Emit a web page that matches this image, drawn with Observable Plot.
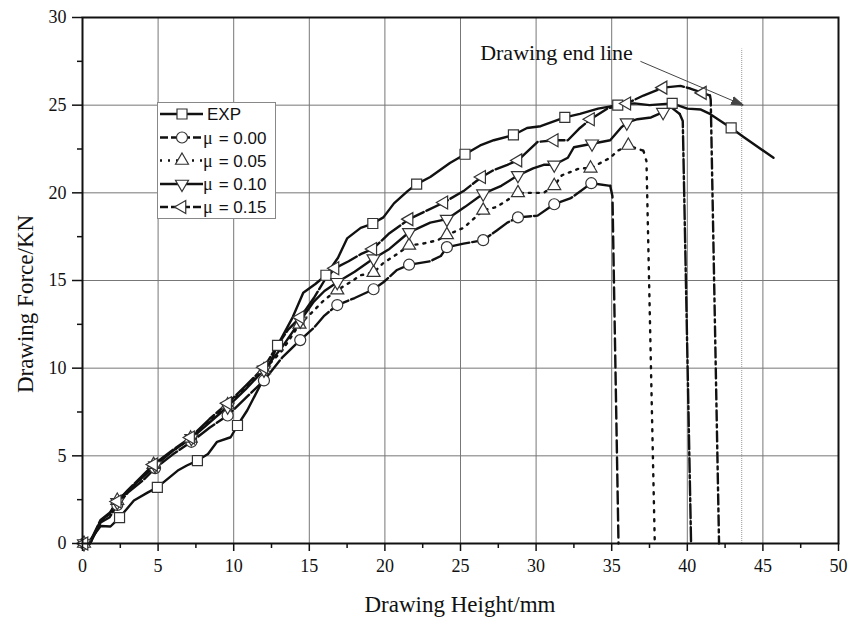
<!DOCTYPE html>
<html><head><meta charset="utf-8">
<script src="https://cdn.jsdelivr.net/npm/d3@7"></script>
<script src="https://cdn.jsdelivr.net/npm/@observablehq/plot@0.6"></script>
<style>
html,body{margin:0;padding:0;background:#fff;}
#wrap{position:relative;width:860px;height:617px;overflow:hidden;}
#legend{position:absolute;left:157px;top:102px;}
</style></head><body><div id="wrap"></div>
<script>
// ---------------- data ----------------
const xTicks = [0,5,10,15,20,25,30,35,40,45,50];
const xMinor = [2.5,7.5,12.5,17.5,22.5,27.5,32.5,37.5,42.5,47.5];
const yTicks = [0,5,10,15,20,25,30];
const yMinor = [2.5,7.5,12.5,17.5,22.5,27.5];

const seriesNames = ["EXP","μ = 0.00","μ = 0.05","μ = 0.10","μ = 0.15"];

const expX = [0.3,0.6,1.2,1.85,2.45,3.4,4.3,4.95,6.3,6.9,7.6,8.3,8.9,9.8,10.25,10.9,11.8,12.9,13.9,14.6,15.4,16.1,16.9,17.5,18.4,19.2,19.9,20.6,21.5,22.1,23.0,24.3,25.3,26.3,27.2,28.5,29.4,30.3,31.9,32.9,34.1,35.4,36.5,37.5,39.0,40.0,40.9,41.5,42.9,43.7,45.7];
const expY = [0,0.3,1.0,0.97,1.48,2.45,2.9,3.2,4.16,4.45,4.73,5.1,5.8,6.06,6.73,7.6,9.1,11.3,12.9,14.3,14.8,15.3,16.3,17.4,18.0,18.25,18.6,19.4,20.1,20.5,20.9,21.7,22.2,22.7,23.0,23.3,23.7,23.8,24.3,24.5,24.8,25.0,25.1,25.0,25.1,24.8,24.75,24.5,23.7,23.2,22.0];
const expMarkX = [2.45,4.95,7.6,10.25,12.9,16.1,19.2,22.1,25.3,28.5,31.9,35.4,39.0,42.9];

const mu0X = [0.1,0.5,1.2,1.8,2.3,3.0,4.0,4.8,6.0,7.2,8.4,9.6,10.8,12.0,13.2,14.4,15.3,16.0,16.85,18.0,19.25,19.9,20.8,21.6,23.0,23.7,24.1,25.2,26.5,27.4,28.1,28.8,30.1,31.2,32.3,33.65,34.9,35.05,35.45];
const mu0Y = [0,0,1.2,1.5,2.2,2.9,3.6,4.3,5.1,5.8,6.6,7.3,8.3,9.3,10.6,11.6,12.3,13.0,13.6,14.0,14.5,14.9,15.6,15.9,16.1,16.4,16.9,17.1,17.3,17.85,18.3,18.6,18.7,19.35,19.7,20.55,20.4,19.8,0];
const mu0MarkX = [0.1,2.3,4.8,7.2,9.6,12.0,14.4,16.85,19.25,21.6,24.1,26.5,28.8,31.2,33.65];

const mu05X = [0.1,0.5,1.2,1.8,2.3,3.0,4.0,4.7,6.0,7.15,8.4,9.6,10.8,12.0,13.2,14.35,15.2,16.0,16.85,17.7,18.4,19.25,19.9,20.8,21.6,22.5,23.5,24.1,25.2,26.5,27.4,28.3,28.8,29.6,30.5,31.2,31.7,32.9,33.6,34.9,35.4,36.1,37.1,37.3,37.85];
const mu05Y = [0,0,1.3,1.7,2.45,3.0,3.8,4.5,5.3,6.0,7.0,7.9,8.9,9.9,11.0,12.5,13.2,13.9,14.45,14.9,15.3,15.45,16.0,16.5,17.0,17.1,17.3,17.6,18.0,19.0,19.2,19.7,20.0,20.0,20.0,20.4,21.0,21.4,21.4,22.0,22.4,22.7,22.4,21.8,0];
const mu05MarkX = [0.1,2.3,4.7,7.15,9.6,12.0,14.35,16.85,19.25,21.6,24.1,26.5,28.8,31.2,33.6,36.1];

const mu10X = [0.1,0.5,1.2,1.8,2.3,3.0,4.0,4.8,6.0,7.2,8.4,9.6,10.8,12.0,13.2,14.4,15.3,16.0,16.85,18.0,19.25,20.3,21.6,23.0,24.1,25.3,26.5,27.7,28.8,29.8,30.5,31.2,32.1,32.5,33.7,34.9,35.6,36.0,36.7,37.6,38.4,38.9,39.5,39.7,40.25];
const mu10Y = [0,0,1.3,1.7,2.35,3.0,3.8,4.45,5.3,6.0,6.9,7.8,8.8,9.9,11.2,12.7,13.8,14.4,14.9,15.5,16.25,16.8,17.75,18.3,18.5,19.2,19.95,20.4,21.0,21.4,21.6,21.6,22.0,22.6,22.8,23.0,23.7,24.0,24.2,24.3,24.6,24.9,24.5,24.1,0];
const mu10MarkX = [0.1,2.3,4.8,7.2,9.6,12.0,14.4,16.85,19.25,21.6,24.1,26.5,28.8,31.2,33.7,36.0,38.4];

const mu15X = [0.1,0.5,1.2,1.8,2.3,3.0,4.0,4.7,6.0,7.15,8.4,9.6,10.8,12.0,12.9,13.6,14.4,15.3,16.0,16.7,17.6,18.4,19.2,20.3,21.6,22.8,23.9,25.2,26.4,27.2,28.1,28.8,30.1,31.2,32.1,32.9,33.6,34.7,36.0,37.1,38.4,39.55,40.2,41.0,41.5,41.55,42.1];
const mu15Y = [0,0.1,1.35,1.75,2.4,3.05,3.9,4.5,5.35,6.05,7.1,8.0,9.0,10.05,11.3,12.2,12.9,14.0,15.0,15.7,16.1,16.5,16.8,17.7,18.5,19.0,19.45,20.1,20.9,21.3,21.6,21.85,22.9,23.0,23.0,23.7,24.2,24.8,25.1,25.55,26.0,26.1,25.95,25.7,25.55,25.3,0];
const mu15MarkX = [0.1,2.3,4.7,7.15,9.6,12.0,14.4,16.7,19.2,21.6,23.9,26.4,28.8,31.2,33.6,36.0,38.4,41.0];

// x where each simulated curve breaks off into its drop line
const dropFrom = [null, 34.9, 37.1, 39.5, 41.5];

// annotation
const endLine = [{x: 43.6, top: 28.2}];
const endLabel = [{x: 26.3, y: 28.0, text: "Drawing end line"}];
const endArrow = [{x1: 36.9, y1: 27.5, x2: 43.7, y2: 25.0}];

const xTitle = "Drawing Height/mm";
const yTitle = "Drawing Force/KN";

// ---------------- styles ----------------
const SERIF = "'Liberation Serif','Times New Roman',serif";
const SANS = "'Liberation Sans',Arial,sans-serif";

function mkSym(kind){
  return {draw(ctx, size){
    const r = Math.sqrt(size/Math.PI);
    if (kind === "circle") { ctx.moveTo(r,0); ctx.arc(0,0,r,0,2*Math.PI); }
    else if (kind === "square") { ctx.moveTo(-r,-r); ctx.lineTo(r,-r); ctx.lineTo(r,r); ctx.lineTo(-r,r); ctx.closePath(); }
    else if (kind === "up") { ctx.moveTo(0,-r); ctx.lineTo(0.866*r,0.5*r); ctx.lineTo(-0.866*r,0.5*r); ctx.closePath(); }
    else if (kind === "down") { ctx.moveTo(0,r); ctx.lineTo(0.866*r,-0.5*r); ctx.lineTo(-0.866*r,-0.5*r); ctx.closePath(); }
    else if (kind === "left") { ctx.moveTo(-r,0); ctx.lineTo(0.5*r,-0.866*r); ctx.lineTo(0.5*r,0.866*r); ctx.closePath(); }
  }};
}

const seriesXs = [expX, mu0X, mu05X, mu10X, mu15X];
const seriesYs = [expY, mu0Y, mu05Y, mu10Y, mu15Y];
const seriesMarks = [expMarkX, mu0MarkX, mu05MarkX, mu10MarkX, mu15MarkX];
const styles = [
  {sym: mkSym("square"), r: 5, dash: null, dropDash: null, legDash: null},
  {sym: mkSym("circle"), r: 5.5, dash: "20,3", dropDash: "12,5", legDash: "8,3"},
  {sym: mkSym("up"), r: 7.5, dash: "2,6", dropDash: "2,7", legDash: "2,6"},
  {sym: mkSym("down"), r: 7.5, dash: null, dropDash: "14,3,3,3", legDash: null},
  {sym: mkSym("left"), r: 7.5, dash: "24,3", dropDash: "10,4,3,4", legDash: "8,3"}
];

const series = seriesNames.map((name, k) => {
  const rows = seriesXs[k].map((x, i) => ({series: name, x, y: seriesYs[k][i]}));
  const d = dropFrom[k];
  return {
    name,
    curve: d == null ? rows : rows.filter(r => r.x <= d),
    drop: d == null ? [] : rows.filter(r => r.x >= d),
    marks: rows.filter(r => seriesMarks[k].includes(r.x)),
    ...styles[k]
  };
});

function filledArrow(color, context) {
  const ns = "http://www.w3.org/2000/svg";
  const doc = (context && context.document) || document;
  const m = doc.createElementNS(ns, "marker");
  m.setAttribute("viewBox", "-12 -5 12 10");
  m.setAttribute("markerWidth", "12");
  m.setAttribute("markerHeight", "10");
  m.setAttribute("orient", "auto");
  m.setAttribute("refX", "0");
  m.setAttribute("refY", "0");
  const p = doc.createElementNS(ns, "path");
  p.setAttribute("d", "M-12,-4L0,0L-12,4Z");
  p.setAttribute("fill", color);
  m.appendChild(p);
  return m;
}

function build(marker) {
  const marks = [
    Plot.gridX(xTicks, {stroke: "#777", strokeOpacity: 1, strokeWidth: 1}),
    Plot.gridY(yTicks, {stroke: "#777", strokeOpacity: 1, strokeWidth: 1}),
    Plot.ruleX(endLine, {x: "x", y1: 0, y2: "top", stroke: "#999", strokeWidth: 1, strokeDasharray: "1,1"})
  ];
  for (const s of series) {
    marks.push(Plot.line(s.curve, {x: "x", y: "y", stroke: "#111", strokeWidth: 2.4, strokeDasharray: s.dash || undefined}));
    if (s.drop.length) marks.push(Plot.line(s.drop, {x: "x", y: "y", stroke: "#111", strokeWidth: 2.4, strokeDasharray: s.dropDash || undefined}));
  }
  for (const s of series) {
    marks.push(Plot.dot(s.marks, {x: "x", y: "y", symbol: s.sym, r: s.r, fill: "white", stroke: "#333", strokeWidth: 1.2}));
  }
  marks.push(
    Plot.frame({stroke: "#111", strokeWidth: 2}),
    Plot.axisX(xTicks, {tickSize: 8, tickPadding: 8, strokeWidth: 1.5, fontSize: 18}),
    Plot.axisX(xMinor, {tickSize: 5, strokeWidth: 1.5, tickFormat: () => ""}),
    Plot.axisY(yTicks, {tickSize: 10, tickPadding: 6, strokeWidth: 1.5, fontSize: 18}),
    Plot.axisY(yMinor, {tickSize: 5, strokeWidth: 1.5, tickFormat: () => ""}),
    Plot.link(endArrow, {x1: "x1", y1: "y1", x2: "x2", y2: "y2", stroke: "#444", strokeWidth: 1, markerEnd: marker}),
    Plot.text(endLabel, {x: "x", y: "y", text: "text", textAnchor: "start", fontSize: 22, fill: "#111", fontFamily: SERIF})
  );
  return Plot.plot({
    width: 860, height: 617,
    marginTop: 17, marginRight: 22, marginBottom: 74, marginLeft: 82,
    x: {domain: [0, 50], label: null},
    y: {domain: [0, 30], label: null},
    style: {fontFamily: SERIF, fontSize: "18px", color: "#111", background: "white", overflow: "visible"},
    marks
  });
}

let chart;
try { chart = build(filledArrow); } catch (e) { chart = build("arrow"); }
const wrap = document.getElementById("wrap");
wrap.appendChild(chart);

// axis titles
const svg = d3.select(chart);
svg.append("text").attr("x", 460).attr("y", 612).attr("text-anchor", "middle")
  .attr("font-family", SERIF).attr("font-size", 23).attr("fill", "#111").text(xTitle);
svg.append("text").attr("transform", "translate(33,304) rotate(-90)").attr("text-anchor", "middle")
  .attr("font-family", SERIF).attr("font-size", 23).attr("fill", "#111").text(yTitle);

// legend
const lg = d3.select(wrap).append("div").attr("id", "legend")
  .append("svg").attr("width", 119).attr("height", 117);
lg.append("rect").attr("x", 0.5).attr("y", 0.5).attr("width", 118).attr("height", 116)
  .attr("fill", "white").attr("stroke", "#888").attr("stroke-width", 1);
const rowY = [12, 35.5, 58.5, 82, 105];
series.forEach((s, k) => {
  const g = lg.append("g").attr("transform", `translate(0,${rowY[k]})`);
  g.append("line").attr("x1", 3).attr("x2", 46).attr("y1", 0).attr("y2", 0)
    .attr("stroke", "#111").attr("stroke-width", 2.4).attr("stroke-dasharray", s.legDash || null);
  const p = d3.path(); s.sym.draw(p, Math.PI * s.r * s.r);
  g.append("path").attr("d", p.toString()).attr("transform", "translate(25,0)")
    .attr("fill", "white").attr("stroke", "#333").attr("stroke-width", 1.2);
  const t = g.append("text").attr("y", 6).attr("font-size", 17).attr("fill", "#111");
  if (s.name === "EXP") {
    t.attr("x", 50).attr("font-family", SANS).text(s.name);
  } else {
    t.attr("x", 46);
    t.append("tspan").attr("font-family", SERIF).attr("font-size", 18).text("μ");
    t.append("tspan").attr("dx", 6).attr("font-family", SANS).text(s.name.slice(2));
  }
});
</script></body></html>
